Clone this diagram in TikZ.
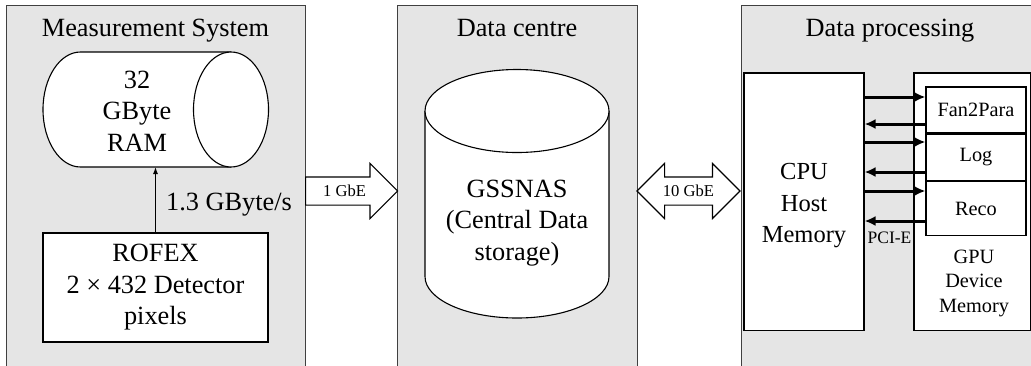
\documentclass[tikz,border=0pt]{standalone}
\usepackage{fontspec}
\setmainfont{Liberation Serif}
\usetikzlibrary{arrows.meta,positioning,shapes.arrows}

\begin{document}
\begin{tikzpicture}[
  x=1pt, y=1pt, >=Latex,
  font=\fontsize{26.3}{31.5}\selectfont,
  panel/.style={draw=black!75, fill=black!10, line width=0.9pt},
  box/.style={draw, fill=white, line width=1.1pt, align=center, inner sep=0pt},
  txt/.style={align=center, inner sep=0pt},
  fat/.style={draw, fill=white, line width=1.1pt, inner xsep=0pt, inner ysep=8pt,
              text height=11pt, text depth=0pt, font=\fontsize{16.6}{20}\selectfont},
  gpubox/.style={box, minimum width=100pt, font=\fontsize{20.3}{24.5}\selectfont},
  pci/.style={line width=3pt, -{Latex[length=11pt,width=10pt]}}]
\clip (0,0) rectangle (1031,-365);

% the three rooms
\draw[panel] (6,-5) rectangle (305,-380);
\draw[panel] (397,-5) rectangle (637,-380);
\draw[panel] (741,-5) rectangle (1050,-380);
\node[anchor=base] (msys)  at (155.5,-36) {Measurement System};
\node[anchor=base] (dcen)  at (517,-36)   {Data centre};
\node[anchor=base] (dproc) at (890,-36)   {Data processing};

% measurement system
\draw[box] (231,-52) -- (80.5,-52) arc (90:270:37.5 and 57.5) -- (231,-167);
\draw[box] (231,-109.5) ellipse (37.5 and 57.5);
\node[txt] (ram) at (137,-111) {32\\GByte\\RAM};
\coordinate (ramb) at (155.5,-167);
\node[box, minimum width=225pt, minimum height=109pt] (rofex) at (155.5,-287.5)
  {ROFEX\\2 × 432 Detector\\pixels};
\draw[line width=1.1pt, -{Latex[length=7pt,width=5pt]}] (rofex) -- (ramb);
\node[anchor=base] (rate) at (229,-210) {1.3 GByte/s};

% data centre
\draw[box] (425,-111) -- (425,-276.5) arc (180:360:92 and 41.5) -- (609,-111);
\draw[box] (517,-111) ellipse (92 and 41.5);
\node[txt] (nas) at (517,-223) {GSSNAS\\(Central Data\\storage)};

% links
\node[fat, single arrow, single arrow head extend=13.5pt, minimum height=92pt,
      anchor=tail] (gbe1) at (305,-191) {1 GbE};
\node[fat, double arrow, double arrow head extend=13.5pt, minimum height=103pt]
  (gbe10) at (688.5,-191) {10 GbE};

% data processing
\node[box, minimum width=120pt, minimum height=257.5pt] (cpu) at (804,-201.75) {};
\node[txt, font=\fontsize{24.5}{31.5}\selectfont] (cputxt) at (804,-206) {CPU\\Host\\Memory};
\node[box, minimum width=116.5pt, minimum height=257.5pt] (gpu) at (972.25,-201.75) {};
\node[gpubox, minimum height=46pt] (fan) at (976,-110) {Fan2Para};
\node[gpubox, minimum height=46.6pt, below=0pt of fan] (log) {Log};
\node[gpubox, minimum height=54pt, below=0pt of log] (reco) {Reco};
\node[txt, font=\fontsize{20.3}{24.5}\selectfont] (gputxt) at (974,-283) {GPU\\Device\\Memory};

\foreach \y in {97,142,191}
  \draw[pci] (cpu.east |- 0,-\y) -- (fan.west |- 0,-\y);
\foreach \y in {124,172,221}
  \draw[pci] (fan.west |- 0,-\y) -- (cpu.east |- 0,-\y);
\node[anchor=base, font=\fontsize{17.5}{20}\selectfont] (pcie) at (889.5,-243) {PCI-E};
\end{tikzpicture}
\end{document}
